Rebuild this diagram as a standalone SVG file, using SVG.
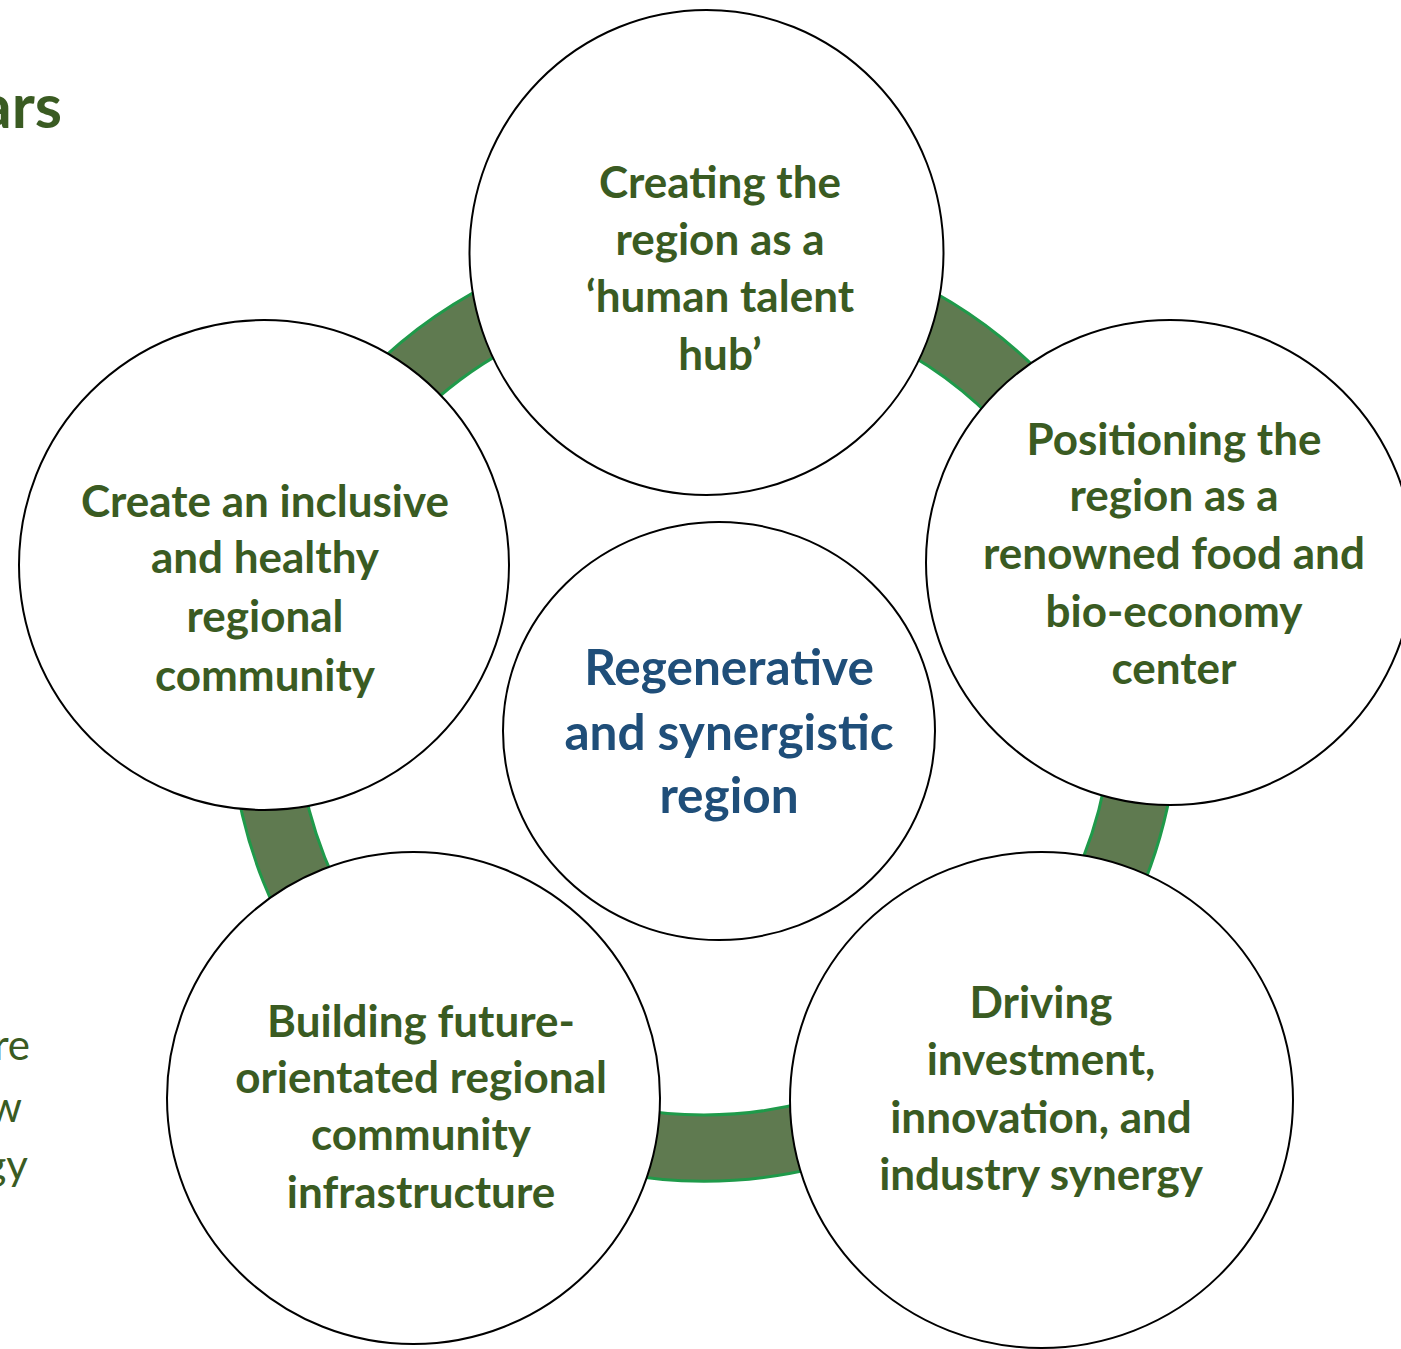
<svg xmlns="http://www.w3.org/2000/svg" width="1401" height="1349" viewBox="0 0 1401 1349">
<style>
.node{fill:#ffffff;stroke:#000000;stroke-width:2}
.ring{fill:#5F7A50;stroke:#1F9A4A;stroke-width:3;fill-rule:evenodd}
.g{font-family:Lato,"Open Sans",sans-serif;font-weight:bold;font-size:44px;fill:#3A5B22;text-anchor:middle}
.b{font-family:Lato,"Open Sans",sans-serif;font-weight:bold;font-size:49.5px;fill:#1F4E79;text-anchor:middle}
.side{font-family:Lato,"Open Sans",sans-serif;fill:#3A5B22;text-anchor:end}
</style>
<rect width="1401" height="1349" fill="#ffffff"/>
<g id="side-text">
<text class="side" x="62" y="128" font-size="62" font-weight="bold">ars</text>
<text class="side" x="30" y="1060" font-size="42">re</text>
<text class="side" x="22" y="1122" font-size="42">w</text>
<text class="side" x="28" y="1180" font-size="42">gy</text>
</g>
<g id="connectors">
<path class="ring" d="M230,707 A474,474 0 1,0 1178,707 A474,474 0 1,0 230,707 Z M296,707 A408,408 0 1,1 1112,707 A408,408 0 1,1 296,707 Z"/>
</g>
<g id="node-top">
<ellipse class="node" cx="706.5" cy="252.5" rx="237" ry="242.5"/>
<text class="g" x="720" y="198">Creating the</text>
<text class="g" x="720" y="255">region as a</text>
<text class="g" x="720" y="312">‘human talent</text>
<text class="g" x="720" y="370">hub’</text>
</g>
<g id="node-right">
<ellipse class="node" cx="1170" cy="562.5" rx="244" ry="242.5"/>
<text class="g" x="1174" y="455">Positioning the</text>
<text class="g" x="1174" y="511">region as a</text>
<text class="g" x="1174" y="569">renowned food and</text>
<text class="g" x="1174" y="627">bio-economy</text>
<text class="g" x="1174" y="684">center</text>
</g>
<g id="node-bottom-right">
<ellipse class="node" cx="1041.5" cy="1100" rx="251.5" ry="248"/>
<text class="g" x="1041" y="1018">Driving</text>
<text class="g" x="1041" y="1075">investment,</text>
<text class="g" x="1041" y="1133">innovation, and</text>
<text class="g" x="1041" y="1190">industry synergy</text>
</g>
<g id="node-bottom-left">
<ellipse class="node" cx="413.5" cy="1098" rx="246.5" ry="246"/>
<text class="g" x="421" y="1037">Building future-</text>
<text class="g" x="421" y="1093">orientated regional</text>
<text class="g" x="421" y="1150">community</text>
<text class="g" x="421" y="1208">infrastructure</text>
</g>
<g id="node-left">
<ellipse class="node" cx="264" cy="565" rx="245" ry="245"/>
<text class="g" x="265" y="517">Create an inclusive</text>
<text class="g" x="265" y="573">and healthy</text>
<text class="g" x="265" y="632">regional</text>
<text class="g" x="265" y="691">community</text>
</g>
<g id="node-center">
<ellipse class="node" cx="719" cy="731" rx="216" ry="209"/>
<text class="b" x="729" y="685">Regenerative</text>
<text class="b" x="729" y="750">and synergistic</text>
<text class="b" x="729" y="813">region</text>
</g>
</svg>
